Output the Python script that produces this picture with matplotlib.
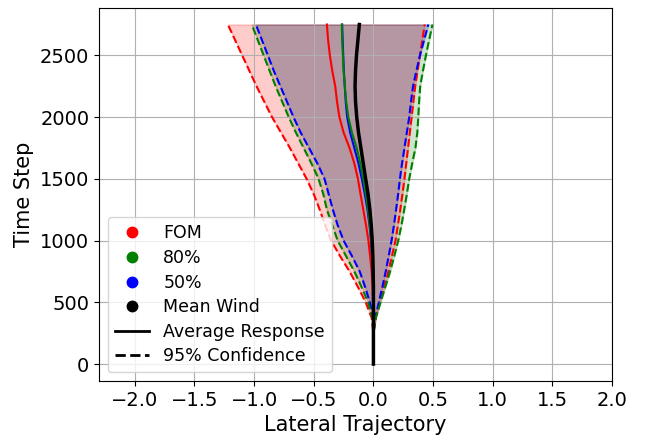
import matplotlib.pyplot as plt
from matplotlib.lines import Line2D

# time steps at which the trajectories are sampled
steps = [0, 125, 250, 375, 500, 625, 750, 875, 1000, 1125, 1250, 1375,
         1500, 1625, 1750, 1875, 2000, 2125, 2250, 2375, 2500, 2625, 2750]

# average lateral response per model
fom_mean = [0, 0, 0, 0, -0.003, -0.008, -0.015, -0.028, -0.042, -0.062, -0.085, -0.108,
            -0.13, -0.16, -0.20, -0.25, -0.285, -0.305, -0.32, -0.345, -0.365, -0.38, -0.39]
p80_mean = [0, 0, 0, 0, 0, -0.002, -0.005, -0.01, -0.018, -0.03, -0.045, -0.063,
            -0.085, -0.11, -0.14, -0.18, -0.21, -0.228, -0.24, -0.25, -0.256, -0.262, -0.265]
p50_mean = [0, 0, 0, 0, 0, -0.002, -0.006, -0.012, -0.02, -0.033, -0.05, -0.072,
            -0.097, -0.125, -0.16, -0.195, -0.22, -0.232, -0.24, -0.248, -0.253, -0.258, -0.262]
wind_mean = [0, 0, 0, 0, 0, 0, -0.002, -0.005, -0.01, -0.018, -0.03, -0.045,
             -0.065, -0.085, -0.105, -0.125, -0.14, -0.15, -0.154, -0.15, -0.142, -0.13, -0.118]

# 95% confidence bounds
fom_lo = [0, 0, 0, -0.015, -0.065, -0.13, -0.20, -0.28, -0.355, -0.405, -0.45, -0.50,
          -0.56, -0.63, -0.70, -0.775, -0.85, -0.915, -0.98, -1.04, -1.10, -1.16, -1.22]
fom_hi = [0, 0, 0, 0.02, 0.055, 0.09, 0.125, 0.155, 0.185, 0.205, 0.225, 0.243,
          0.26, 0.275, 0.29, 0.305, 0.32, 0.335, 0.35, 0.37, 0.39, 0.41, 0.43]
p80_lo = [0, 0, 0, -0.008, -0.045, -0.10, -0.16, -0.23, -0.30, -0.345, -0.39, -0.42,
          -0.46, -0.52, -0.585, -0.65, -0.71, -0.765, -0.82, -0.87, -0.92, -0.97, -1.02]
p80_hi = [0, 0, 0, 0.02, 0.06, 0.10, 0.14, 0.175, 0.208, 0.235, 0.258, 0.28,
          0.30, 0.325, 0.352, 0.368, 0.376, 0.383, 0.392, 0.415, 0.44, 0.467, 0.495]
p50_lo = [0, 0, 0, -0.005, -0.03, -0.07, -0.115, -0.18, -0.25, -0.30, -0.34, -0.375,
          -0.41, -0.47, -0.54, -0.61, -0.67, -0.725, -0.78, -0.835, -0.885, -0.935, -0.985]
p50_hi = [0, 0, 0, 0.015, 0.045, 0.075, 0.103, 0.128, 0.152, 0.172, 0.19, 0.207,
          0.222, 0.24, 0.26, 0.28, 0.30, 0.315, 0.332, 0.36, 0.39, 0.425, 0.46]

fig = plt.figure(figsize=(6.48, 4.38), dpi=100)
ax = fig.add_axes([0.1528, 0.1301, 0.7917, 0.8527])

# bands: 50% first, FOM on top
for lo, hi, c in [(p50_lo, p50_hi, 'blue'), (p80_lo, p80_hi, 'green'), (fom_lo, fom_hi, 'red')]:
    ax.fill_betweenx(steps, lo, hi, color=c, alpha=0.2)

for mean, lo, hi, c in [(fom_mean, fom_lo, fom_hi, 'red'),
                        (p50_mean, p50_lo, p50_hi, 'blue'),
                        (p80_mean, p80_lo, p80_hi, 'green')]:
    ax.plot(mean, steps, color=c, lw=1.5)
    ax.plot(lo, steps, color=c, ls='--', lw=1.5)
    ax.plot(hi, steps, color=c, ls='--', lw=1.5)

ax.plot(wind_mean, steps, color='black', lw=2.5)

ax.set_xlim(-2.3, 2.0)
ax.set_xticks([-2.0, -1.5, -1.0, -0.5, 0.0, 0.5, 1.0, 1.5, 2.0])
ax.grid(True)
ax.tick_params(labelsize=14)
ax.set_xlabel('Lateral Trajectory', fontsize=15)
ax.set_ylabel('Time Step', fontsize=15)

handles = [
    Line2D([], [], marker='o', ls='', color='red', markersize=7.5, label='FOM'),
    Line2D([], [], marker='o', ls='', color='green', markersize=7.5, label='80%'),
    Line2D([], [], marker='o', ls='', color='blue', markersize=7.5, label='50%'),
    Line2D([], [], marker='o', ls='', color='black', markersize=7.5, label='Mean Wind'),
    Line2D([], [], color='black', lw=2, label='Average Response'),
    Line2D([], [], color='black', lw=2, ls='--', label='95% Confidence'),
]
ax.legend(handles=handles, loc='lower left', fontsize=12.5, labelspacing=0.38)

plt.savefig('out.png')
